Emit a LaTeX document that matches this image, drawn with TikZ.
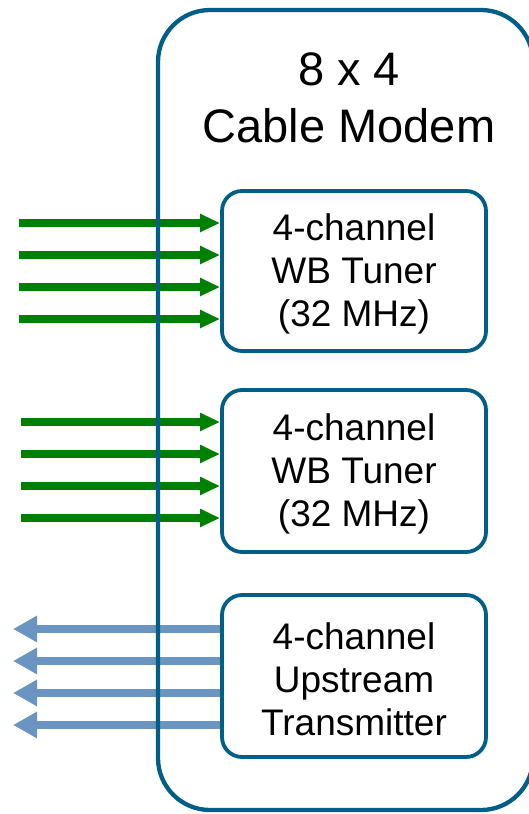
\documentclass[tikz,border=0pt]{standalone}
\usepackage{fontspec}
\setmainfont{Liberation Sans}
\usetikzlibrary{arrows.meta}
\pgfdeclarelayer{bg}
\pgfsetlayers{bg,main}
\definecolor{frame}{RGB}{0,94,135}
\definecolor{dgreen}{RGB}{0,128,0}
\definecolor{upblue}{RGB}{106,149,193}
\newcommand{\toppad}{\rule{0pt}{33pt}}
\begin{document}
\begin{tikzpicture}[x=1pt,y=-1pt,
  unit/.style={draw=frame, line width=3.8pt, fill=white, rounded corners=20pt,
    minimum width=264pt, minimum height=160pt, inner sep=0pt, align=center,
    font=\fontsize{37}{43}\selectfont},
  modembox/.style={draw=frame, line width=4.3pt, rounded corners=52pt,
    minimum width=375pt, minimum height=800pt, inner sep=0pt},
  titletext/.style={anchor=base, font=\fontsize{47}{56}\selectfont},
  downlink/.style={draw=dgreen, line width=7.8pt, -{Triangle[length=20pt,width=17pt]}},
  uplink/.style={draw=upblue, line width=7.3pt, -{Triangle[length=24pt,width=25pt]}},
]
\useasboundingbox (0,0) rectangle (529,814);

\node[modembox] (modem) at (345.5,410) {};
\node[titletext] (title1) at (349,85) {8 x 4};
\node[titletext] (title2) at (349,142) {Cable Modem};

\node[unit] (t1) at (354,271) {\toppad 4-channel\\WB Tuner\\(32 MHz)};
\node[unit, minimum height=162pt] (t2) at (354,471) {\toppad 4-channel\\WB Tuner\\(32 MHz)};
\node[unit, minimum height=162pt] (t3) at (354,676) {\toppad 4-channel\\Upstream\\Transmitter};

\coordinate (g1) at (19,223);
\coordinate (g2) at (19,255);
\coordinate (g3) at (19,287);
\coordinate (g4) at (19,319);
\coordinate (g5) at (21,422);
\coordinate (g6) at (21,454);
\coordinate (g7) at (21,486);
\coordinate (g8) at (21,518);
\coordinate (u1) at (13,629);
\coordinate (u2) at (13,661);
\coordinate (u3) at (13,693);
\coordinate (u4) at (13,725);

\begin{pgfonlayer}{bg}
\foreach \g in {g1,g2,g3,g4} \draw[downlink] (\g) -- (\g -| t1.west);
\foreach \g in {g5,g6,g7,g8} \draw[downlink] (\g) -- (\g -| t2.west);
\foreach \u in {u1,u2,u3,u4} \draw[uplink] (\u -| t3.west) -- (\u);
\end{pgfonlayer}
\end{tikzpicture}
\end{document}
